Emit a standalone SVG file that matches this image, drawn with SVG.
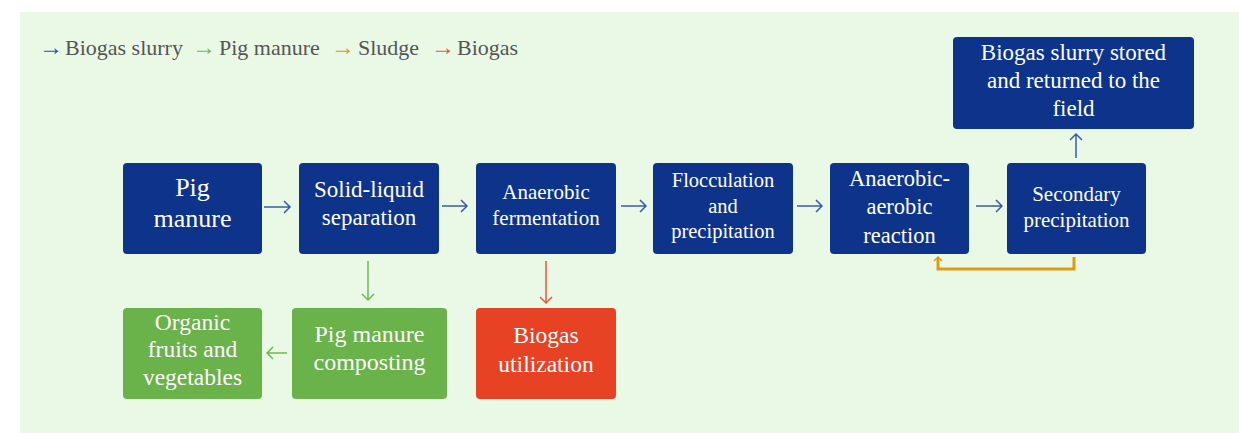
<svg xmlns="http://www.w3.org/2000/svg" width="1239" height="433" viewBox="0 0 1239 433">
<style>
text{font-family:'Liberation Serif', serif}
.bx{fill:#0E338A}
.gn{fill:#6AB24A}
.rd{fill:#E84225}
.t{fill:#FFFFFF;text-anchor:middle}
.lg{font-size:22px;fill:#555555}
.la{font-size:24px}
.cb{fill:none;stroke:#3A5CA8;stroke-width:1.5}
.cg{fill:none;stroke:#6DBB55;stroke-width:1.5}
.cr{fill:none;stroke:#E8583C;stroke-width:1.5}
.co{fill:none;stroke:#E09A14;stroke-width:3}
</style>
<rect x="20" y="12" width="1219" height="421" fill="#EAF9E5"/>
<g id="legend">
<text class="la" x="39" y="55" fill="#2E55A8">→</text>
<text class="lg" x="65" y="55">Biogas slurry</text>
<text class="la" x="192" y="55" fill="#6DBB55">→</text>
<text class="lg" x="219" y="55">Pig manure</text>
<text class="la" x="331" y="55" fill="#E09A14">→</text>
<text class="lg" x="358" y="55">Sludge</text>
<text class="la" x="431" y="55" fill="#E8583C">→</text>
<text class="lg" x="457" y="55">Biogas</text>
</g>
<g id="n-pig-manure">
<rect class="bx" x="123" y="163" width="139" height="91" rx="4"/>
<text class="t" font-size="26" x="192.5" y="196">Pig</text>
<text class="t" font-size="26" x="192.5" y="227">manure</text>
</g>
<g id="n-solid-liquid">
<rect class="bx" x="299" y="163" width="140" height="91" rx="4"/>
<text class="t" font-size="23" x="369" y="197">Solid-liquid</text>
<text class="t" font-size="23" x="369" y="225">separation</text>
</g>
<g id="n-anaerobic-fermentation">
<rect class="bx" x="476" y="163" width="140" height="91" rx="4"/>
<text class="t" font-size="21" x="546" y="199">Anaerobic</text>
<text class="t" font-size="21" x="546" y="225">fermentation</text>
</g>
<g id="n-flocculation">
<rect class="bx" x="653" y="163" width="140" height="91" rx="4"/>
<text class="t" font-size="20.5" x="723" y="187">Flocculation</text>
<text class="t" font-size="20.5" x="723" y="213">and</text>
<text class="t" font-size="20.5" x="723" y="238">precipitation</text>
</g>
<g id="n-anaerobic-aerobic">
<rect class="bx" x="830" y="163" width="139" height="91" rx="4"/>
<text class="t" font-size="22.5" x="899.5" y="186">Anaerobic-</text>
<text class="t" font-size="22.5" x="899.5" y="214">aerobic</text>
<text class="t" font-size="22.5" x="899.5" y="243">reaction</text>
</g>
<g id="n-secondary">
<rect class="bx" x="1007" y="163" width="139" height="91" rx="4"/>
<text class="t" font-size="21" x="1076.5" y="201">Secondary</text>
<text class="t" font-size="21" x="1076.5" y="227">precipitation</text>
</g>
<g id="n-slurry-stored">
<rect class="bx" x="953" y="37" width="241" height="92" rx="4"/>
<text class="t" font-size="23" x="1073.5" y="60">Biogas slurry stored</text>
<text class="t" font-size="23" x="1073.5" y="88">and returned to the</text>
<text class="t" font-size="23" x="1073.5" y="116">field</text>
</g>
<g id="n-organic">
<rect class="gn" x="123" y="308" width="139" height="91" rx="4"/>
<text class="t" font-size="23.5" x="192.5" y="330">Organic</text>
<text class="t" font-size="23.5" x="192.5" y="357">fruits and</text>
<text class="t" font-size="23.5" x="192.5" y="385">vegetables</text>
</g>
<g id="n-composting">
<rect class="gn" x="292" y="308" width="155" height="91" rx="4"/>
<text class="t" font-size="24" x="369.5" y="342">Pig manure</text>
<text class="t" font-size="24" x="369.5" y="370">composting</text>
</g>
<g id="n-biogas-utilization">
<rect class="rd" x="476" y="308" width="140" height="91" rx="4"/>
<text class="t" font-size="23.5" x="546" y="343">Biogas</text>
<text class="t" font-size="23.5" x="546" y="372">utilization</text>
</g>
<g id="connectors">
<path class="cb" d="M264 207H290M284 201L290 207L284 213"/>
<path class="cb" d="M442 206H467M461 200L467 206L461 212"/>
<path class="cb" d="M621 206H646M640 200L646 206L640 212"/>
<path class="cb" d="M797 206H822M816 200L822 206L816 212"/>
<path class="cb" d="M976 206H1002M996 200L1002 206L996 212"/>
<path class="cb" d="M1076 158V134M1070 140L1076 134L1082 140"/>
<path class="cg" d="M368 261V300M362 294L368 300L374 294"/>
<path class="cg" d="M287 353H267M273 347L267 353L273 359"/>
<path class="cr" d="M546 261V303M540 297L546 303L552 297"/>
<path class="co" d="M1074 257V269H938V258"/>
<path fill="none" stroke="#E09A14" stroke-width="1.5" d="M934 261L938 257L942 261"/>
</g>
</svg>
